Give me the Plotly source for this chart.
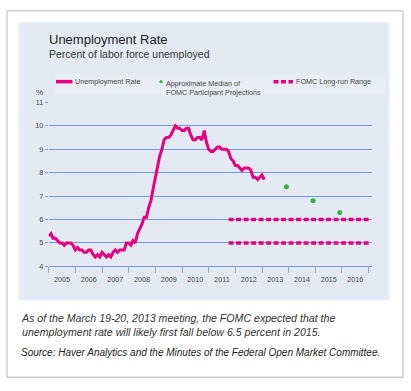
import pandas as pd
import plotly.graph_objects as go

# ---- data ----
unemployment_rate = [
    5.3, 5.4, 5.2, 5.2, 5.1, 5.0, 5.0, 4.9, 5.0, 5.0, 5.0, 4.9,   # 2005
    4.7, 4.8, 4.7, 4.7, 4.6, 4.6, 4.7, 4.7, 4.5, 4.4, 4.5, 4.4,   # 2006
    4.6, 4.5, 4.4, 4.5, 4.4, 4.6, 4.7, 4.6, 4.7, 4.7, 4.7, 5.0,   # 2007
    5.0, 4.9, 5.1, 5.0, 5.4, 5.6, 5.8, 6.1, 6.1, 6.5, 6.8, 7.3,   # 2008
    7.8, 8.3, 8.7, 9.0, 9.4, 9.5, 9.5, 9.6, 9.8, 10.0, 9.9, 9.9,  # 2009
    9.8, 9.8, 9.9, 9.9, 9.6, 9.4, 9.4, 9.5, 9.5, 9.4, 9.8, 9.3,   # 2010
    9.0, 8.9, 8.9, 9.0, 9.1, 9.1, 9.0, 9.0, 9.0, 8.9, 8.6, 8.5,   # 2011
    8.3, 8.3, 8.2, 8.1, 8.2, 8.2, 8.2, 8.1, 7.8, 7.8, 7.7, 7.8,   # 2012
    7.9, 7.7,                                                     # 2013
]
rate_months = pd.date_range("2005-01-01", periods=len(unemployment_rate), freq="MS")

projection_dates = ["2013-12-01", "2014-12-01", "2015-12-01"]
projection_median = [7.4, 6.8, 6.3]

longrun_dates = ["2011-10-01", "2017-01-01"]
longrun_low = [5.0, 5.0]
longrun_high = [6.0, 6.0]

# ---- style ----
PINK = "#e6007e"
GREEN = "#3bb044"
GRID = "#6f9cd8"
PANEL = "#e4eaf4"
FONT = "Liberation Sans, Arial, sans-serif"
W, H = 411, 391


def px(x):
    return x / W


def py(y):
    return 1 - y / H


fig = go.Figure()

fig.add_trace(go.Scatter(x=rate_months, y=unemployment_rate, mode="lines",
                         line=dict(color=PINK, width=3), name="Unemployment Rate",
                         hoverinfo="x+y"))
for lvl in (longrun_low, longrun_high):
    fig.add_trace(go.Scatter(x=longrun_dates, y=lvl, mode="lines",
                             line=dict(color=PINK, width=3.5, dash="5px,2.5px"),
                             name="FOMC Long-run Range"))
fig.add_trace(go.Scatter(x=projection_dates, y=projection_median, mode="markers",
                         marker=dict(color=GREEN, size=5),
                         name="Approximate Median of FOMC Participant Projections"))

shapes = [
    # outer frame
    dict(type="rect", xref="paper", yref="paper", x0=px(7), x1=px(403), y0=py(7), y1=py(382),
         line=dict(color="#b5b5b5", width=1), fillcolor="white", layer="below"),
    # panel
    dict(type="rect", xref="paper", yref="paper", x0=px(19), x1=px(389), y0=py(19), y1=py(303),
         line=dict(color="#edf1f8", width=1.5), fillcolor=PANEL, layer="below"),
    # legend strip
    dict(type="rect", xref="paper", yref="paper", x0=px(55), x1=px(386), y0=py(72), y1=py(93),
         line=dict(width=0), fillcolor="#e9eef6", layer="below"),
    # legend symbols
    dict(type="line", xref="paper", yref="paper", x0=px(56), x1=px(72.5), y0=py(79.5), y1=py(79.5),
         line=dict(color=PINK, width=3.5)),
    dict(type="line", xref="paper", yref="paper", x0=px(273.5), x1=px(293), y0=py(79.5), y1=py(79.5),
         line=dict(color=PINK, width=3.5, dash="5px,2.5px")),
    dict(type="circle", xref="paper", yref="paper", x0=px(159.3), x1=px(162.7), y0=py(77.8), y1=py(81.2),
         line=dict(width=0), fillcolor=GREEN),
]

annotations = [
    dict(text="Unemployment Rate", x=px(46.5), y=py(46.5), xanchor="left", yanchor="bottom",
         font=dict(size=13, color="#222")),
    dict(text="Percent of labor force unemployed", x=px(46.5), y=py(59), xanchor="left", yanchor="bottom",
         font=dict(size=10.5, color="#333")),
    dict(text="Unemployment Rate", x=px(72.5), y=py(79.5), xanchor="left", yanchor="middle",
         font=dict(size=7.2, color="#444")),
    dict(text="Approximate Median of<br>FOMC Participant Projections", x=px(164), y=py(74.3),
         xanchor="left", yanchor="top", align="left", font=dict(size=7.2, color="#444")),
    dict(text="FOMC Long-run Range", x=px(293.5), y=py(79.5), xanchor="left", yanchor="middle",
         font=dict(size=7.2, color="#444")),
    dict(text="%", x=px(39.5), y=py(91), xanchor="center", yanchor="middle",
         font=dict(size=8, color="#444")),
    dict(text="<i>As of the March 19-20, 2013 meeting, the FOMC expected that the<br>"
              "unemployment rate will likely first fall below 6.5 percent in 2015.</i>",
         x=px(18.5), y=py(313), xanchor="left", yanchor="top", align="left",
         font=dict(size=10.6, color="#333")),
    dict(text="<i>Source: Haver Analytics and the Minutes of the Federal Open Market Committee.</i>",
         x=px(18.5), y=py(349), xanchor="left", yanchor="top", align="left",
         font=dict(size=10.0, color="#222")),
]
for a in annotations:
    a.update(xref="paper", yref="paper", showarrow=False)

fig.update_layout(
    width=W, height=H,
    margin=dict(l=0, r=0, t=0, b=0),
    paper_bgcolor="white", plot_bgcolor="rgba(0,0,0,0)",
    font=dict(family=FONT, color="#444"),
    showlegend=False,
    shapes=shapes, annotations=annotations,
    xaxis=dict(
        type="date", domain=[px(48.7), px(372)],
        range=["2005-01-01", "2017-02-15"],
        tick0="2005-01-01", dtick="M12",
        tickformat="%Y", ticklabelmode="period",
        ticks="outside", ticklen=6, tickcolor="#8fa6c8", tickwidth=1,
        showline=True, linecolor=GRID, linewidth=1,
        showgrid=False, zeroline=False,
        tickfont=dict(size=7.2, color="#444"),
    ),
    yaxis=dict(
        domain=[py(268.5), py(100.7)], range=[4, 11],
        tickvals=[4, 5, 6, 7, 8, 9, 10, 11],
        showgrid=True, gridcolor=GRID, gridwidth=1,
        ticks="outside", ticklen=3, tickcolor=GRID,
        showline=False, zeroline=False,
        tickfont=dict(size=7.2, color="#444"),
    ),
)

fig.write_html("out.html", config={"displayModeBar": False},
               post_script="document.body.style.margin='0';document.body.style.overflow='hidden';")
